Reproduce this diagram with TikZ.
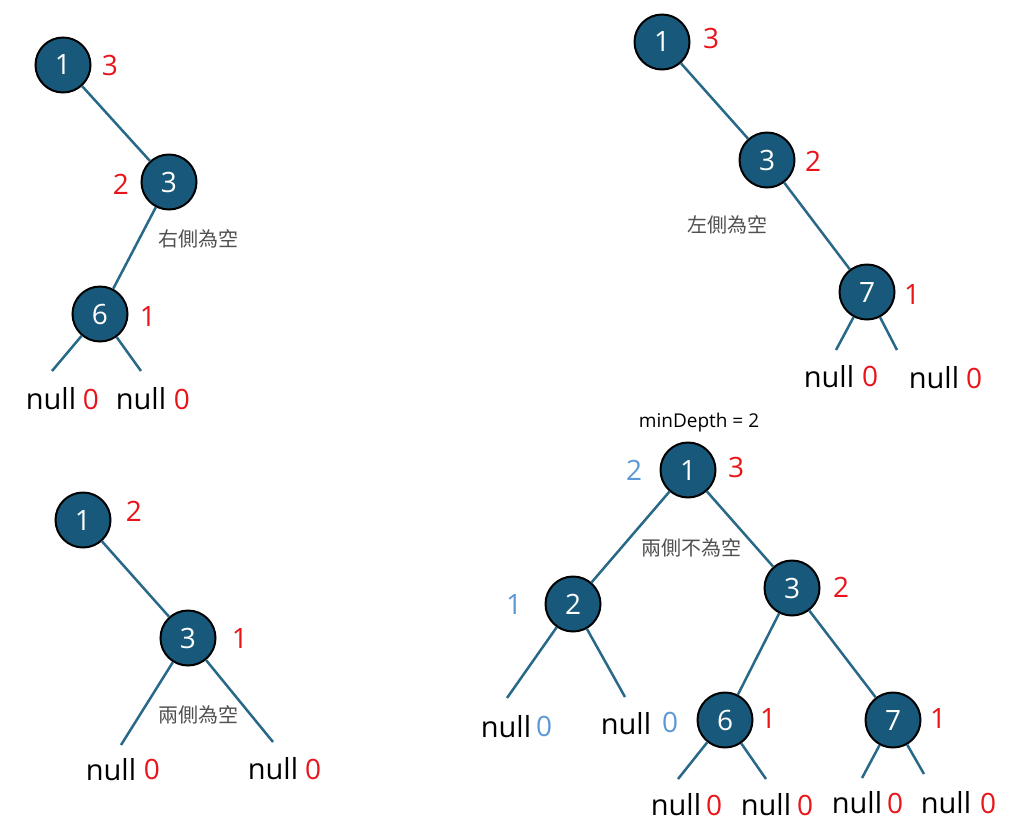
\documentclass[tikz,border=0pt]{standalone}
\usepackage{fontspec}
\setmainfont{Open Sans}
\newfontfamily\cjk{Noto Sans CJK TC}
\usetikzlibrary{positioning}

\definecolor{nodeblue}{RGB}{24,88,122}
\definecolor{edgeblue}{RGB}{40,104,136}
\definecolor{depthred}{RGB}{232,20,26}
\definecolor{depthsky}{RGB}{92,152,214}
\definecolor{notegray}{RGB}{80,80,80}

\tikzset{
  tnode/.style={circle, draw=black, line width=2pt, fill=nodeblue, text=white,
    minimum size=55pt, inner sep=0pt, font=\fontsize{28}{28}\selectfont},
  reddepth/.style={text=depthred, inner sep=0pt, font=\fontsize{28}{28}\selectfont},
  skydepth/.style={text=depthsky, inner sep=0pt, font=\fontsize{28}{28}\selectfont},
  nulltxt/.style={inner sep=0pt, font=\fontsize{29}{29}\selectfont},
  note/.style={text=notegray, inner sep=0pt, font=\cjk\fontsize{20}{20}\selectfont},
  edge/.style={draw=edgeblue, line width=2.5pt},
}

\begin{document}
\begin{tikzpicture}[x=1pt, y=-1pt]
\useasboundingbox (0,0) rectangle (1024,839);

% right side empty
\begin{scope}
\node[tnode] (a1) at (63,65) {1};
\node[reddepth] (a1d) at (110,65) {3};
\node[tnode] (a3) at (169,182) {3};
\node[reddepth] (a3d) at (121,184) {2};
\node[tnode] (a6) at (100,314) {6};
\node[reddepth] (a6d) at (148,316) {1};
\coordinate (a6l) at (52,371);
\coordinate (a6r) at (141,371);
\node[nulltxt] (a6ln) at (51,399) {null};
\node[reddepth] (a6lz) at (91,399) {0};
\node[nulltxt] (a6rn) at (141,399) {null};
\node[reddepth] (a6rz) at (182,399) {0};
\node[note] (anote) at (198,239) {右側為空};
\draw[edge] (a1) -- (a3);
\draw[edge] (a3) -- (a6);
\draw[edge] (a6) -- (a6l);
\draw[edge] (a6) -- (a6r);
\end{scope}

% left side empty
\begin{scope}
\node[tnode] (b1) at (662,42) {1};
\node[reddepth] (b1d) at (711,38) {3};
\node[tnode] (b3) at (767,160) {3};
\node[reddepth] (b3d) at (813,161) {2};
\node[tnode] (b7) at (867,292) {7};
\node[reddepth] (b7d) at (912,294) {1};
\coordinate (b7l) at (836,350);
\coordinate (b7r) at (897,350);
\node[nulltxt] (b7ln) at (829,377) {null};
\node[reddepth] (b7lz) at (870,376) {0};
\node[nulltxt] (b7rn) at (934,378) {null};
\node[reddepth] (b7rz) at (974,378) {0};
\node[note] (bnote) at (727,225) {左側為空};
\draw[edge] (b1) -- (b3);
\draw[edge] (b3) -- (b7);
\draw[edge] (b7) -- (b7l);
\draw[edge] (b7) -- (b7r);
\end{scope}

% both sides empty
\begin{scope}
\node[tnode] (c1) at (83,520) {1};
\node[reddepth] (c1d) at (134,511) {2};
\node[tnode] (c3) at (188,638) {3};
\node[reddepth] (c3d) at (240,638) {1};
\coordinate (c3l) at (121,745);
\coordinate (c3r) at (273,742);
\node[nulltxt] (c3ln) at (111,770) {null};
\node[reddepth] (c3lz) at (152,769) {0};
\node[nulltxt] (c3rn) at (273,769) {null};
\node[reddepth] (c3rz) at (313,769) {0};
\node[note] (cnote) at (198,715) {兩側為空};
\draw[edge] (c1) -- (c3);
\draw[edge] (c3) -- (c3l);
\draw[edge] (c3) -- (c3r);
\end{scope}

% both sides not empty
\begin{scope}
\node[inner sep=0pt, font=\fontsize{19}{19}\selectfont] (dtitle) at (699,423) {minDepth = 2};
\node[tnode] (d1) at (688,470) {1};
\node[skydepth] (d1m) at (634,470) {2};
\node[reddepth] (d1d) at (736,467) {3};
\node[note] (dnote) at (691,548) {兩側不為空};
\node[tnode] (d2) at (573,604) {2};
\node[skydepth] (d2m) at (514,604) {1};
\node[tnode] (d3) at (792,588) {3};
\node[reddepth] (d3d) at (841,587) {2};
\node[tnode] (d6) at (725,720) {6};
\node[reddepth] (d6d) at (768,718) {1};
\node[tnode] (d7) at (893,720) {7};
\node[reddepth] (d7d) at (938,718) {1};
\coordinate (d2l) at (507,698);
\coordinate (d2r) at (625,697);
\coordinate (d6l) at (678,779);
\coordinate (d6r) at (766,779);
\coordinate (d7l) at (862,778);
\coordinate (d7r) at (924,774);
\node[nulltxt] (d2ln) at (506,727) {null};
\node[skydepth] (d2lz) at (544,726) {0};
\node[nulltxt] (d2rn) at (626,724) {null};
\node[skydepth] (d2rz) at (670,722) {0};
\node[nulltxt] (d6ln) at (676,805) {null};
\node[reddepth] (d6lz) at (714,805) {0};
\node[nulltxt] (d6rn) at (766,805) {null};
\node[reddepth] (d6rz) at (805,805) {0};
\node[nulltxt] (d7ln) at (857,803) {null};
\node[reddepth] (d7lz) at (895,803) {0};
\node[nulltxt] (d7rn) at (946,803) {null};
\node[reddepth] (d7rz) at (988,803) {0};
\draw[edge] (d1) -- (d2);
\draw[edge] (d1) -- (d3);
\draw[edge] (d3) -- (d6);
\draw[edge] (d3) -- (d7);
\draw[edge] (d2) -- (d2l);
\draw[edge] (d2) -- (d2r);
\draw[edge] (d6) -- (d6l);
\draw[edge] (d6) -- (d6r);
\draw[edge] (d7) -- (d7l);
\draw[edge] (d7) -- (d7r);
\end{scope}
\end{tikzpicture}
\end{document}
